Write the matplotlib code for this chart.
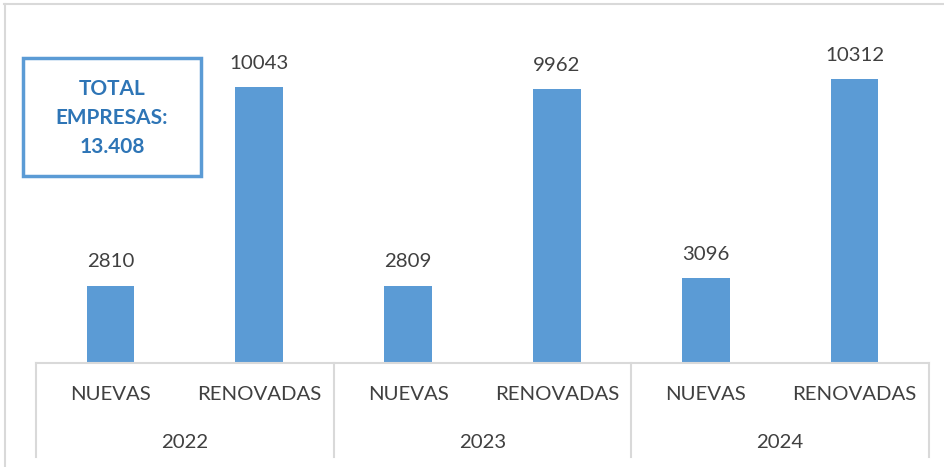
import matplotlib.pyplot as plt
from matplotlib.lines import Line2D
from matplotlib.patches import Rectangle
import matplotlib.transforms as mtransforms

plt.rcParams['font.family'] = ['Lato', 'DejaVu Sans']

years = ['2022', '2023', '2024']
categories = ['NUEVAS', 'RENOVADAS']
values = [2810, 10043, 2809, 9962, 3096, 10312]
total_text = 'TOTAL\nEMPRESAS:\n13.408'

bar_color = '#5B9BD5'
grid_color = '#D9D9D9'
text_color = '#404040'

fig = plt.figure(figsize=(9.44, 4.67), dpi=100)
ax = fig.add_axes([36 / 944, (467 - 363) / 467, (929 - 36) / 944, 330 / 467])

x = list(range(len(values)))
bars = ax.bar(x, values, width=0.32, color=bar_color, zorder=2)

for xi, v in zip(x, values):
    ax.annotate(str(v), (xi, v), xytext=(0, 11), textcoords='offset points',
                ha='center', va='bottom', fontsize=14.7, color=text_color)

ax.set_xlim(-0.5, len(values) - 0.5)
ax.set_ylim(0, 12000)
ax.set_xticks([])
ax.set_yticks([])
for s in ['top', 'right', 'left']:
    ax.spines[s].set_visible(False)
ax.spines['bottom'].set_color(grid_color)
ax.spines['bottom'].set_linewidth(1.5)

# multi-level category axis
trans = mtransforms.blended_transform_factory(ax.transData, ax.transAxes)
low = -94 / 330
for g in range(len(years) + 1):
    xs = g * 2 - 0.5
    ax.add_line(Line2D([xs, xs], [0, low], transform=trans, color=grid_color,
                       lw=1.5, clip_on=False))
for i, xi in enumerate(x):
    ax.text(xi, -32 / 330, categories[i % 2], transform=trans, ha='center',
            va='center', fontsize=14.7, color=text_color)
for g, yr in enumerate(years):
    ax.text(g * 2 + 0.5, -79 / 330, yr, transform=trans, ha='center',
            va='center', fontsize=14.7, color=text_color)

# total box
box = Rectangle((23 / 944, 1 - 176 / 467), 178 / 944, 118 / 467,
                transform=fig.transFigure, fill=False, edgecolor=bar_color, lw=2.5)
fig.add_artist(box)
fig.text(112 / 944, 1 - 118 / 467, total_text, ha='center', va='center',
         fontsize=15, fontweight='bold', color='#2E75B6', linespacing=1.55)

# outer chart frame
fig.add_artist(Line2D([5 / 944, 5 / 944], [0, 1 - 4 / 467], transform=fig.transFigure,
                      color=grid_color, lw=1.5))
fig.add_artist(Line2D([4 / 944, 1], [1 - 4 / 467, 1 - 4 / 467], transform=fig.transFigure,
                      color=grid_color, lw=1.5))

fig.savefig('out.png', dpi=100)
